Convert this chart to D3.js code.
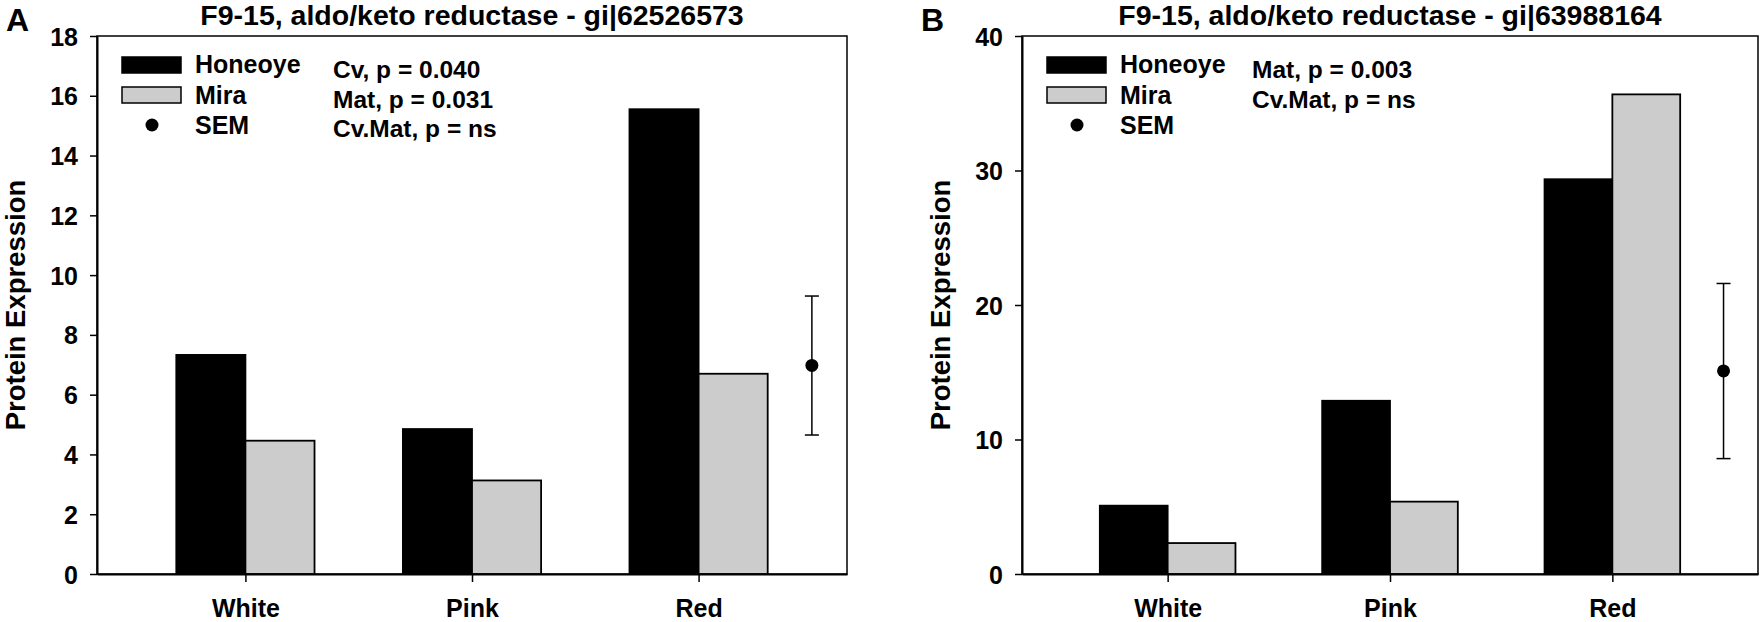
<!DOCTYPE html>
<html>
<head>
<meta charset="utf-8">
<script src="https://cdn.jsdelivr.net/npm/d3@7"></script>
<style>
  body { margin: 0; background: #fff; }
  svg text { font-family: Arial, "Liberation Sans", sans-serif; font-weight: bold; fill: #000; }
</style>
</head>
<body>
<svg id="chart" width="1763" height="622"></svg>
<script>
// data
const categories = ['White', 'Pink', 'Red'];
const seriesNames = ['Honeoye', 'Mira'];
const seriesColors = ['#000000', '#cccccc'];

const honeoyeA = [7.33, 4.85, 15.55];
const miraA = [4.46, 3.13, 6.70];
const semA = [4.65, 6.98, 9.30]; // low, mean, high
const yTicksA = [0, 2, 4, 6, 8, 10, 12, 14, 16, 18];
const statsA = ['Cv, p = 0.040', 'Mat, p = 0.031', 'Cv.Mat, p = ns'];

const honeoyeB = [5.08, 12.88, 29.35];
const miraB = [2.30, 5.38, 35.66];
const semB = [8.58, 15.10, 21.60];
const yTicksB = [0, 10, 20, 30, 40];
const statsB = ['Mat, p = 0.003', 'Cv.Mat, p = ns'];

class BarPanel {

  constructor(_config, _data) {
    this.config = {
      parentElement: _config.parentElement,
      left: _config.left,
      top: _config.top || 36,
      width: _config.width,
      height: _config.height || 538,
      letter: _config.letter,
      letterX: _config.letterX,
      title: _config.title,
      yMax: _config.yMax,
      yTicks: _config.yTicks,
      stats: _config.stats,
      statsX: _config.statsX
    };
    this.data = _data;
    this.initVis();
  }

  initVis() {
    let vis = this;
    let c = vis.config;

    vis.svg = d3.select(c.parentElement);

    vis.chart = vis.svg.append('g')
        .attr('transform', `translate(${c.left},${c.top})`);

    // categories sit at 1,2,3 and the SEM marker at 3.5
    vis.xScale = d3.scaleLinear()
        .domain([0.345, 3.655])
        .range([0, c.width]);

    vis.yScale = d3.scaleLinear()
        .domain([0, c.yMax])
        .range([c.height, 0]);

    vis.barW = 0.305; // in category units

    // panel letter + title
    vis.svg.append('text')
        .attr('x', c.letterX)
        .attr('y', 31)
        .attr('font-size', '32px')
        .text(c.letter);

    vis.chart.append('text')
        .attr('x', c.width / 2)
        .attr('y', -11)
        .attr('text-anchor', 'middle')
        .attr('font-size', '28.5px')
        .text(c.title);

    // frame (top and right)
    vis.chart.append('rect')
        .attr('width', c.width)
        .attr('height', c.height)
        .attr('fill', 'none')
        .attr('stroke', '#000')
        .attr('stroke-width', 1.5);

    vis.updateVis();
  }

  updateVis() {
    let vis = this;
    let c = vis.config;

    const rows = categories.map((cat, i) => ({cat: cat, i: i, h: vis.data.honeoye[i], m: vis.data.mira[i]}));

    vis.chart.selectAll('.bar-h')
        .data(rows)
        .join('rect')
        .attr('class', 'bar-h')
        .attr('x', d => vis.xScale(d.i + 1 - vis.barW))
        .attr('width', d => vis.xScale(d.i + 1) - vis.xScale(d.i + 1 - vis.barW))
        .attr('y', d => vis.yScale(d.h))
        .attr('height', d => vis.yScale(0) - vis.yScale(d.h))
        .attr('fill', seriesColors[0])
        .attr('stroke', '#000')
        .attr('stroke-width', 1.8);

    vis.chart.selectAll('.bar-m')
        .data(rows)
        .join('rect')
        .attr('class', 'bar-m')
        .attr('x', d => vis.xScale(d.i + 1))
        .attr('width', d => vis.xScale(d.i + 1 + vis.barW) - vis.xScale(d.i + 1))
        .attr('y', d => vis.yScale(d.m))
        .attr('height', d => vis.yScale(0) - vis.yScale(d.m))
        .attr('fill', seriesColors[1])
        .attr('stroke', '#000')
        .attr('stroke-width', 1.8);

    // SEM marker
    const sem = vis.data.sem;
    const sx = vis.xScale(3.5);
    vis.chart.append('line')
        .attr('x1', sx).attr('x2', sx)
        .attr('y1', vis.yScale(sem[0])).attr('y2', vis.yScale(sem[2]))
        .attr('stroke', '#000').attr('stroke-width', 1.5);
    vis.chart.selectAll('.cap')
        .data([sem[0], sem[2]])
        .join('line')
        .attr('class', 'cap')
        .attr('x1', sx - 7).attr('x2', sx + 7)
        .attr('y1', d => vis.yScale(d)).attr('y2', d => vis.yScale(d))
        .attr('stroke', '#000').attr('stroke-width', 1.5);
    vis.chart.append('circle')
        .attr('cx', sx)
        .attr('cy', vis.yScale(sem[1]))
        .attr('r', 6.5)
        .attr('fill', '#000');

    // axes
    vis.yAxis = d3.axisLeft(vis.yScale)
        .tickValues(c.yTicks)
        .tickSize(7)
        .tickSizeOuter(0)
        .tickPadding(12);

    vis.yAxisG = vis.chart.append('g')
        .attr('class', 'axis y-axis')
        .call(vis.yAxis);
    vis.yAxisG.selectAll('text').attr('font-size', '25px').attr('dy', '0.36em');
    vis.yAxisG.selectAll('line').attr('stroke-width', 1.5);
    vis.yAxisG.select('.domain').attr('stroke-width', 2);

    vis.xAxis = d3.axisBottom(vis.xScale)
        .tickValues([1, 2, 3])
        .tickFormat(d => categories[d - 1])
        .tickSize(8)
        .tickSizeOuter(0)
        .tickPadding(17);

    vis.xAxisG = vis.chart.append('g')
        .attr('class', 'axis x-axis')
        .attr('transform', `translate(0,${c.height})`)
        .call(vis.xAxis);
    vis.xAxisG.selectAll('text').attr('font-size', '25px').attr('dy', '0.71em');
    vis.xAxisG.selectAll('line').attr('stroke-width', 1.5);
    vis.xAxisG.select('.domain').attr('stroke-width', 2);

    vis.chart.append('text')
        .attr('transform', 'rotate(-90)')
        .attr('x', -c.height / 2)
        .attr('y', -72)
        .attr('text-anchor', 'middle')
        .attr('font-size', '27.5px')
        .text('Protein Expression');

    // legend
    const legend = vis.chart.append('g').attr('transform', 'translate(25,21)');
    legend.selectAll('rect')
        .data(seriesNames)
        .join('rect')
        .attr('x', 0)
        .attr('y', (d, i) => i * 30)
        .attr('width', 59)
        .attr('height', 16)
        .attr('fill', (d, i) => seriesColors[i])
        .attr('stroke', '#000')
        .attr('stroke-width', 1.5);
    legend.append('circle')
        .attr('cx', 30)
        .attr('cy', 68)
        .attr('r', 6.5)
        .attr('fill', '#000');
    legend.selectAll('text')
        .data(seriesNames.concat(['SEM']))
        .join('text')
        .attr('x', 73)
        .attr('y', (d, i) => 16 + i * 30.5)
        .attr('font-size', '25px')
        .text(d => d);

    vis.chart.selectAll('.stat')
        .data(c.stats)
        .join('text')
        .attr('class', 'stat')
        .attr('x', c.statsX)
        .attr('y', (d, i) => 42 + i * 29.5)
        .attr('font-size', '24.5px')
        .text(d => d);
  }
}

new BarPanel({
  parentElement: '#chart',
  left: 97, width: 750,
  letter: 'A', letterX: 6,
  title: 'F9-15, aldo/keto reductase - gi|62526573',
  yMax: 18, yTicks: yTicksA,
  stats: statsA, statsX: 236
}, {honeoye: honeoyeA, mira: miraA, sem: semA});

new BarPanel({
  parentElement: '#chart',
  left: 1022, width: 736,
  letter: 'B', letterX: 921,
  title: 'F9-15, aldo/keto reductase - gi|63988164',
  yMax: 40, yTicks: yTicksB,
  stats: statsB, statsX: 230
}, {honeoye: honeoyeB, mira: miraB, sem: semB});
</script>
</body>
</html>
